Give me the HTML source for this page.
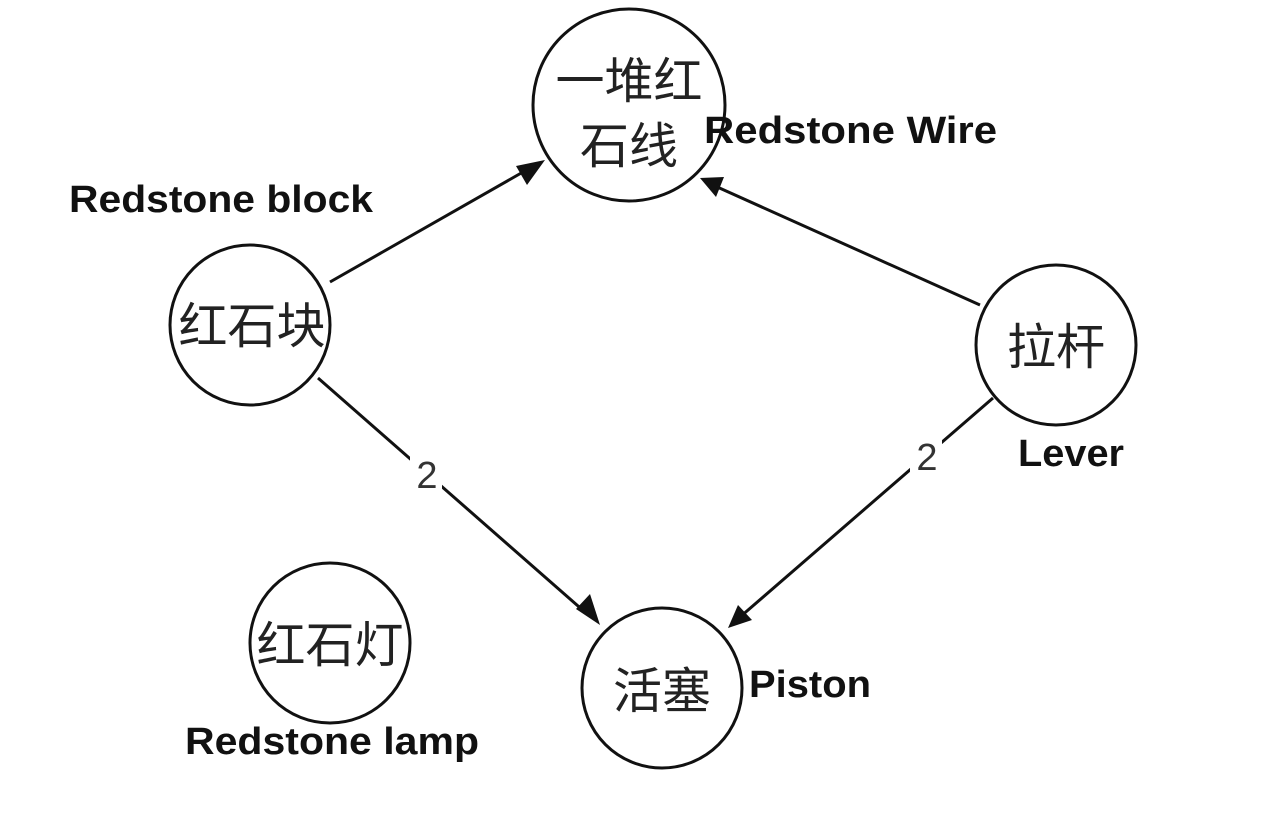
<!DOCTYPE html>
<html><head><meta charset="utf-8"><style>
html,body{margin:0;padding:0;background:#fff;}
svg{display:block;}
.cjk{font-family:"Liberation Sans","Noto Sans CJK SC",sans-serif;font-size:49px;fill:#222;}
.lbl{font-family:"Liberation Sans",sans-serif;font-weight:bold;font-size:38px;fill:#111;}
.num{font-family:"Liberation Sans",sans-serif;font-size:38px;fill:#333;}
</style></head><body>
<svg width="1280" height="818" viewBox="0 0 1280 818" xmlns="http://www.w3.org/2000/svg">
<g stroke="#111" stroke-width="3" fill="none">
<line x1="330" y1="282" x2="530" y2="168"/>
<line x1="980" y1="305" x2="715" y2="186"/>
<line x1="318" y1="378" x2="586" y2="613"/>
<line x1="993" y1="398" x2="740" y2="617"/>
</g>
<g fill="#111">
<polygon points="545,160 516,166 527,185"/>
<polygon points="700,178 716,197 724,177"/>
<polygon points="600,625 576,609 590,594"/>
<polygon points="728,628 738,605 752,620"/>
</g>
<rect x="410" y="455" width="32" height="40" fill="#fff"/>
<rect x="910" y="437" width="32" height="40" fill="#fff"/>
<text class="num" x="427" y="488" text-anchor="middle">2</text>
<text class="num" x="927" y="470" text-anchor="middle">2</text>
<g stroke="#111" stroke-width="3" fill="#fff">
<circle cx="629" cy="105" r="96"/>
<circle cx="250" cy="325" r="80"/>
<circle cx="1056" cy="345" r="80"/>
<circle cx="662" cy="688" r="80"/>
<circle cx="330" cy="643" r="80"/>
</g>
<text class="cjk" x="629" y="98" text-anchor="middle">一堆红</text>
<text class="cjk" x="629" y="163" text-anchor="middle">石线</text>
<text class="cjk" x="252" y="343" text-anchor="middle">红石块</text>
<text class="cjk" x="1056" y="364" text-anchor="middle">拉杆</text>
<text class="cjk" x="662" y="708" text-anchor="middle">活塞</text>
<text class="cjk" x="330" y="662" text-anchor="middle">红石灯</text>
<text class="lbl" x="704" y="143" textLength="293" lengthAdjust="spacingAndGlyphs">Redstone Wire</text>
<text class="lbl" x="69" y="212" textLength="304" lengthAdjust="spacingAndGlyphs">Redstone block</text>
<text class="lbl" x="1018" y="466" textLength="106" lengthAdjust="spacingAndGlyphs">Lever</text>
<text class="lbl" x="749" y="697" textLength="122" lengthAdjust="spacingAndGlyphs">Piston</text>
<text class="lbl" x="185" y="754" textLength="294" lengthAdjust="spacingAndGlyphs">Redstone lamp</text>
</svg>
</body></html>
